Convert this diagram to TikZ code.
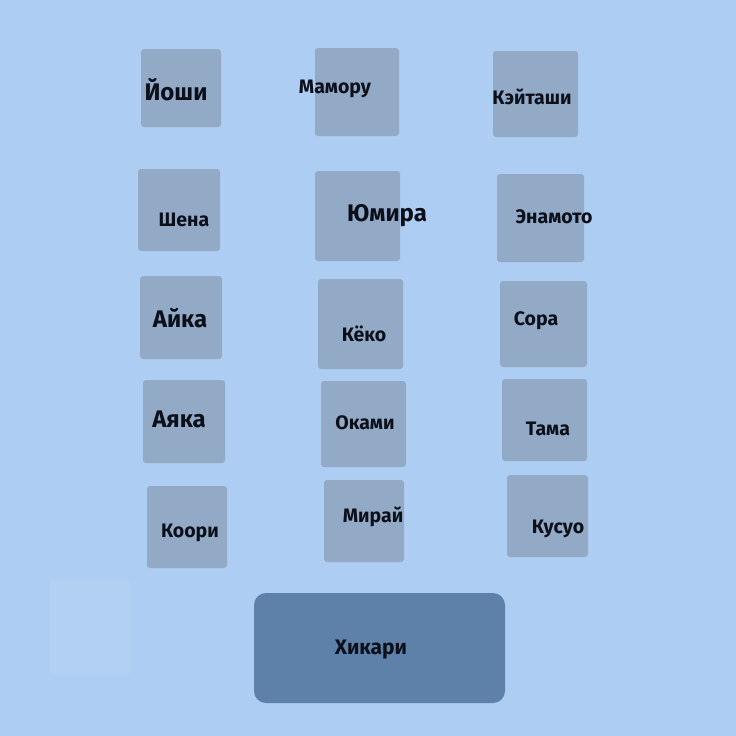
\documentclass[tikz,border=0pt]{standalone}
\usepackage{fontspec}
\setmainfont{Fira Sans}
\usepackage{tikz}
\usetikzlibrary{positioning}
\definecolor{bg}{HTML}{ADCDF2}
\definecolor{sqfill}{HTML}{93AAC7}
\definecolor{bigfill}{HTML}{5E81A9}
\definecolor{ghostfill}{HTML}{B1D0F2}
\definecolor{ink}{HTML}{0B0F1A}
\tikzset{%
	sq/.style = {name = #1, rectangle, fill = sqfill, rounded corners = 3pt, inner sep = 0pt},
	nm/.style = {name = #1, inner sep = 0pt, text = ink, font = \bfseries\fontsize{19.5}{19.5}\selectfont},
	big/.style = {font = \bfseries\fontsize{24}{24}\selectfont}
}

\begin{document}
\begin{tikzpicture}[x = 1pt, y = -1pt]
			\fill [bg] (0,0) rectangle (736,736);
			\node [sq = {ghost}, fill = ghostfill, minimum width = 80, minimum height = 95] at (90,627) {};
			% rows of squares
			\node [sq = {yoshi}, minimum width = 80, minimum height = 78] at (181,88) {};
			\node [sq = {mamoru}, minimum width = 84, minimum height = 88] at (357,92) {};
			\node [sq = {keitashi}, minimum width = 85, minimum height = 86] at (535.5,94) {};
			\node [sq = {shena}, minimum width = 82, minimum height = 82] at (179,210) {};
			\node [sq = {yumira}, minimum width = 85, minimum height = 90] at (357.5,216) {};
			\node [sq = {enamoto}, minimum width = 87, minimum height = 88] at (540.5,218) {};
			\node [sq = {aika}, minimum width = 82, minimum height = 83] at (181,317.5) {};
			\node [sq = {kyoko}, minimum width = 85, minimum height = 90] at (360.5,324) {};
			\node [sq = {sora}, minimum width = 87, minimum height = 86] at (543.5,324) {};
			\node [sq = {ayaka}, minimum width = 82, minimum height = 83] at (184,421.5) {};
			\node [sq = {okami}, minimum width = 85, minimum height = 86] at (363.5,424) {};
			\node [sq = {tama}, minimum width = 85, minimum height = 82] at (544.5,420) {};
			\node [sq = {koori}, minimum width = 80, minimum height = 82] at (187,527) {};
			\node [sq = {mirai}, minimum width = 80, minimum height = 82] at (364,521) {};
			\node [sq = {kusuo}, minimum width = 81, minimum height = 82] at (547.5,516) {};
			\node [sq = {hikari}, fill = bigfill, rounded corners = 12pt, minimum width = 251, minimum height = 110] at (379.5,648) {};
			% names
			\node [nm = {yoshiT}, big] at (176,90) {Йоши};
			\node [nm = {mamoruT}] at (335,89) {Мамору};
			\node [nm = {keitashiT}] at (532,97) {Кэйташи};
			\node [nm = {shenaT}] at (184,220) {Шена};
			\node [nm = {yumiraT}, big] at (387,216) {Юмира};
			\node [nm = {enamotoT}] at (554,217) {Энамото};
			\node [nm = {aikaT}, big] at (180,318) {Айка};
			\node [nm = {kyokoT}] at (364,334) {Кёко};
			\node [nm = {soraT}] at (536,321) {Сора};
			\node [nm = {ayakaT}, big] at (179,419) {Аяка};
			\node [nm = {okamiT}] at (365,423) {Оками};
			\node [nm = {tamaT}] at (548,429) {Тама};
			\node [nm = {kooriT}] at (190,533) {Коори};
			\node [nm = {miraiT}] at (373,517) {Мирай};
			\node [nm = {kusuoT}] at (558,529) {Кусуо};
			\node [nm = {hikariT}, font = \bfseries\fontsize{21}{21}\selectfont] at (371,650) {Хикари};
			\end{tikzpicture}
\end{document}
